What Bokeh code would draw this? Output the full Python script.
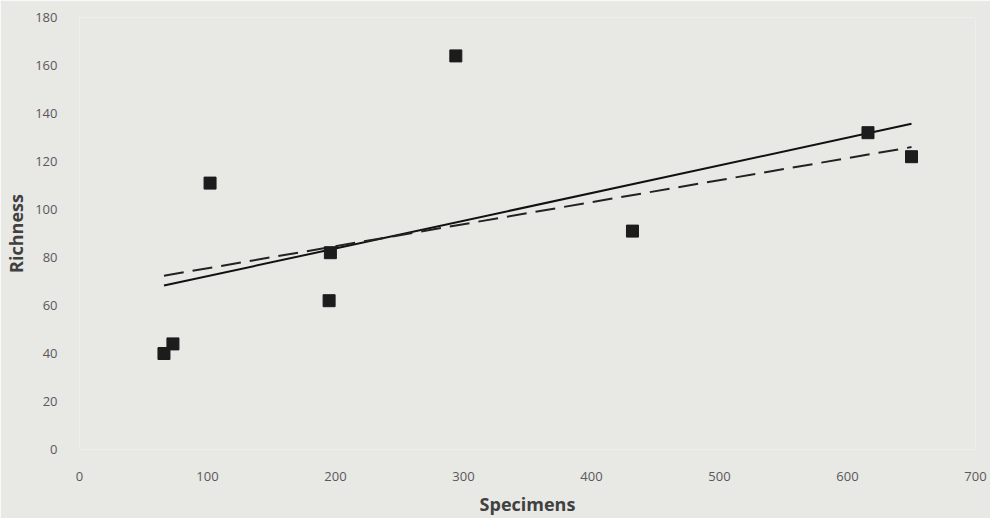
from bokeh.plotting import figure
from bokeh.models import FixedTicker, Range1d
from bokeh.embed import file_html
from bokeh.resources import INLINE

# Data
specimens = [66, 73, 102, 196, 195, 294, 432, 616, 650]
richness = [40, 44, 111, 82, 62, 164, 91, 132, 122]

# Trend lines (end points)
trend_x = [66, 650]
solid_trend_y = [68.3, 135.7]
dashed_trend_y = [72.4, 126.0]

x_ticks = [0, 100, 200, 300, 400, 500, 600, 700]
y_ticks = [0, 20, 40, 60, 80, 100, 120, 140, 160, 180]

BG = "#e8e8e5"
FONT = "Open Sans"

p = figure(width=990, height=518, output_backend="svg", toolbar_location=None,
           x_range=Range1d(0, 700), y_range=Range1d(0, 180),
           min_border_left=79, min_border_right=15, min_border_top=17, min_border_bottom=66)
p.background_fill_color = BG
p.border_fill_color = BG
p.outline_line_color = None
p.grid.visible = False

p.line(trend_x, solid_trend_y, line_color="#111111", line_width=2)
p.line(trend_x, dashed_trend_y, line_color="#222222", line_width=2, line_dash="20 9")
p.scatter(specimens, richness, marker="square", size=12, fill_color="#1c1c1c",
          line_color="#1c1c1c")

for ax in (p.xaxis[0], p.yaxis[0]):
    ax.axis_line_color = None
    ax.major_tick_line_color = None
    ax.minor_tick_line_color = None
    ax.major_label_text_font = FONT
    ax.major_label_text_font_size = "13px"
    ax.major_label_text_color = "#595959"
    ax.axis_label_text_font = FONT
    ax.axis_label_text_font_size = "18px"
    ax.axis_label_text_font_style = "bold"
    ax.axis_label_text_color = "#404040"

p.xaxis.ticker = FixedTicker(ticks=x_ticks)
p.yaxis.ticker = FixedTicker(ticks=y_ticks)
p.xaxis.axis_label = "Specimens"
p.yaxis.axis_label = "Richness"
p.xaxis.major_label_standoff = 16
p.yaxis.major_label_standoff = 16
p.xaxis.axis_label_standoff = 8
p.yaxis.axis_label_standoff = 4

open("out.html", "w").write(file_html(p, INLINE))
